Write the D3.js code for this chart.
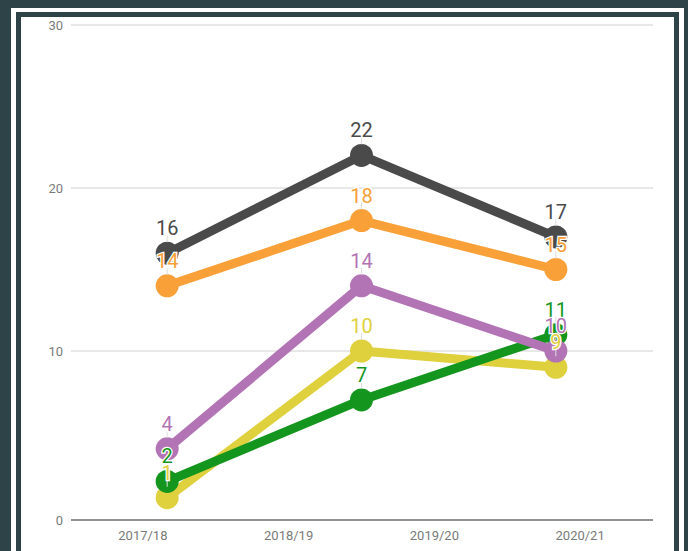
<!DOCTYPE html>
<html>
<head>
<meta charset="utf-8">
<script src="https://cdn.jsdelivr.net/npm/d3@7/dist/d3.min.js"></script>
<style>
  body { margin: 0; background: #2d4347; overflow: hidden; }
  text { font-family: Roboto, "Noto Sans", sans-serif; }
</style>
</head>
<body>
<div id="chart"></div>
<script>
// axis labels and the three positions the data sits on
var tickLabels = ["2017/18", "2018/19", "2019/20", "2020/21"];
var periods = ["start", "middle", "end"];
var yTicks = [0, 10, 20, 30];

// series values
var greySeries = [16, 22, 17];
var orangeSeries = [14, 18, 15];
var yellowSeries = [1, 10, 9];
var greenSeries = [2, 7, 11];
var purpleSeries = [4, 14, 10];

var series = [
  {values: greySeries, color: "#4a4a4a"},
  {values: orangeSeries, color: "#f9a038"},
  {values: yellowSeries, color: "#dfd03e"},
  {values: greenSeries, color: "#14961e"},
  {values: purpleSeries, color: "#b274b4"}
];

var W = 688, H = 551;
var svg = d3.select("#chart").append("svg")
  .attr("width", W)
  .attr("height", H);

// card frame
svg.append("rect").attr("x", 11).attr("y", 8).attr("width", 673).attr("height", 560).attr("fill", "#fff");
svg.append("rect").attr("x", 16).attr("y", 12).attr("width", 663).attr("height", 560).attr("fill", "#2d4347");
svg.append("rect").attr("x", 21).attr("y", 17).attr("width", 653).attr("height", 560).attr("fill", "#fff");

var left = 70, right = 653;

var x = d3.scaleBand().domain(tickLabels).range([left, right]);
var xp = d3.scalePoint().domain(periods).range([left, right]).padding(0.5);
var y = d3.scaleLinear().domain([0, 30]).range([514, 25]);

// grid
svg.append("g")
  .selectAll("line")
  .data(yTicks.filter(function(d) { return d > 0; }))
  .enter()
  .append("line")
  .attr("x1", left + 1)
  .attr("x2", right)
  .attr("y1", function(d) { return y(d); })
  .attr("y2", function(d) { return y(d); })
  .attr("stroke", "#d0d0d0")
  .attr("stroke-width", 1);

// baseline sits a little under zero
var base = y(0) + 6;
svg.append("line")
  .attr("x1", left + 1).attr("x2", right)
  .attr("y1", base).attr("y2", base)
  .attr("stroke", "#6e6e6e")
  .attr("stroke-width", 1.5);

svg.append("g")
  .selectAll("text")
  .data(yTicks)
  .enter()
  .append("text")
  .attr("x", 63)
  .attr("y", function(d) { return d === 0 ? base : y(d); })
  .attr("dy", "0.35em")
  .attr("text-anchor", "end")
  .attr("font-size", 13)
  .attr("fill", "#7a7a7a")
  .text(function(d) { return d; });

svg.append("g")
  .selectAll("text")
  .data(tickLabels)
  .enter()
  .append("text")
  .attr("x", function(d) { return x(d) + x.bandwidth() / 2; })
  .attr("y", base + 20)
  .attr("text-anchor", "middle")
  .attr("font-size", 13)
  .attr("fill", "#7a7a7a")
  .text(function(d) { return d; });

// lines and dots
var line = d3.line()
  .x(function(d, i) { return xp(periods[i]); })
  .y(function(d) { return y(d); });

series.forEach(function(s) {
  var g = svg.append("g");
  g.append("path")
    .datum(s.values)
    .attr("d", line)
    .attr("fill", "none")
    .attr("stroke", s.color)
    .attr("stroke-width", 9)
    .attr("stroke-linejoin", "round");
  g.selectAll("circle")
    .data(s.values)
    .enter()
    .append("circle")
    .attr("cx", function(d, i) { return xp(periods[i]); })
    .attr("cy", function(d) { return y(d); })
    .attr("r", 11.5)
    .attr("fill", s.color);
});

// value labels on top of everything
var labels = svg.append("g");
series.forEach(function(s) {
  labels.selectAll(null)
    .data(s.values)
    .enter()
    .append("line")
    .attr("x1", function(d, i) { return xp(periods[i]); })
    .attr("x2", function(d, i) { return xp(periods[i]); })
    .attr("y1", function(d) { return y(d) - 11; })
    .attr("y2", function(d) { return y(d) - 18; })
    .attr("stroke", "#dddddd")
    .attr("stroke-width", 1);
});
series.forEach(function(s) {
  labels.selectAll(null)
    .data(s.values)
    .enter()
    .append("text")
    .attr("x", function(d, i) { return xp(periods[i]); })
    .attr("y", function(d) { return y(d) - 18; })
    .attr("text-anchor", "middle")
    .attr("font-size", 20)
    .attr("fill", s.color)
    .attr("stroke", "#fff")
    .attr("stroke-width", 2.5)
    .attr("paint-order", "stroke")
    .text(function(d) { return d; });
});
</script>
</body>
</html>
